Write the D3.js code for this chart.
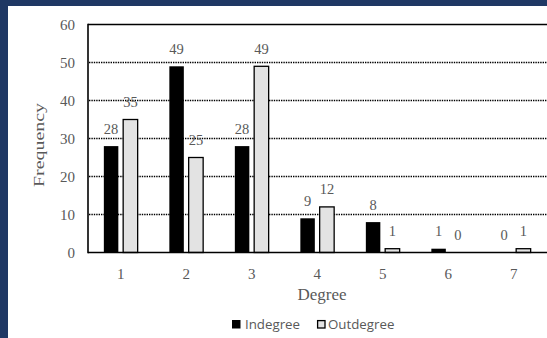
<!DOCTYPE html>
<html>
<head>
<meta charset="utf-8">
<script src="https://cdn.jsdelivr.net/npm/d3@7"></script>
<style>
  body { margin: 0; background: #1f3864; }
  svg { display: block; }
</style>
</head>
<body>
<svg width="547" height="338"></svg>
<script>
const degrees = ['1', '2', '3', '4', '5', '6', '7']
const indegree = [28, 49, 28, 9, 8, 1, 0]
const outdegree = [35, 25, 49, 12, 1, 0, 1]
const yTicks = [0, 10, 20, 30, 40, 50, 60]
const seriesNames = ['Indegree', 'Outdegree']

const svg = d3.select('svg')
const textGray = '#595959'
const serif = '"Liberation Serif", "Times New Roman", serif'

// white page inside the blue frame
svg.append('rect')
  .attr('x', 8).attr('y', 6)
  .attr('width', 547 - 8).attr('height', 338 - 6)
  .attr('fill', '#fff')

const margin = { top: 24.5, left: 88, right: 0.5, bottom: 252.5 }

const x = d3.scaleBand()
  .domain(degrees)
  .range([margin.left, 547 - margin.right])

const xs = d3.scaleBand()
  .domain(seriesNames)
  .range([0, x.bandwidth()])
  .paddingInner(0.25)
  .paddingOuter(0.82)

const y = d3.scaleLinear()
  .domain([0, 60])
  .range([margin.bottom, margin.top])

const color = d3.scaleOrdinal()
  .domain(seriesNames)
  .range(['#000000', '#e3e3e3'])

// dotted gridlines
svg.append('g')
  .selectAll('line')
  .data(yTicks.filter(function (d) { return d > 0 && d < 60 }))
  .enter()
  .append('line')
  .attr('x1', margin.left + 1)
  .attr('x2', 547)
  .attr('y1', function (d) { return y(d) })
  .attr('y2', function (d) { return y(d) })
  .attr('stroke', '#000')
  .attr('stroke-width', 1.4)
  .attr('stroke-dasharray', '1.4,1')

// top border
svg.append('line')
  .attr('x1', margin.left).attr('x2', 547)
  .attr('y1', y(60)).attr('y2', y(60))
  .attr('stroke', '#000').attr('stroke-width', 1.6)

const rows = degrees.map(function (d, i) {
  return {
    degree: d,
    values: [
      { name: 'Indegree', value: indegree[i] },
      { name: 'Outdegree', value: outdegree[i] }
    ]
  }
})

const groups = svg.selectAll('.grp')
  .data(rows)
  .enter()
  .append('g')
  .attr('class', 'grp')
  .attr('transform', function (d) { return 'translate(' + x(d.degree) + ',0)' })

groups.selectAll('rect')
  .data(function (d) { return d.values })
  .enter()
  .append('rect')
  .attr('x', function (d) { return xs(d.name) })
  .attr('width', xs.bandwidth())
  .attr('y', function (d) { return y(d.value) })
  .attr('height', function (d) { return y(0) - y(d.value) })
  .attr('fill', function (d) { return color(d.name) })
  .attr('stroke', '#000')
  .attr('stroke-width', function (d) { return d.name === 'Outdegree' ? 1.3 : 0 })

groups.selectAll('text')
  .data(function (d) { return d.values })
  .enter()
  .append('text')
  .attr('x', function (d) { return xs(d.name) + xs.bandwidth() / 2 })
  .attr('y', function (d) { return y(d.value) - 12.5 })
  .attr('text-anchor', 'middle')
  .style('font-family', serif)
  .style('font-size', '14.5px')
  .style('fill', textGray)
  .text(function (d) { return d.value })

// axes lines
svg.append('line')
  .attr('x1', margin.left).attr('x2', margin.left)
  .attr('y1', y(60) - 0.8).attr('y2', y(0) + 0.8)
  .attr('stroke', '#000').attr('stroke-width', 1.6)

svg.append('line')
  .attr('x1', margin.left).attr('x2', 547)
  .attr('y1', y(0)).attr('y2', y(0))
  .attr('stroke', '#000').attr('stroke-width', 1.6)

// y tick labels
svg.append('g')
  .selectAll('text')
  .data(yTicks)
  .enter()
  .append('text')
  .attr('x', 75)
  .attr('y', function (d) { return y(d) + 5 })
  .attr('text-anchor', 'end')
  .style('font-family', serif)
  .style('font-size', '15px')
  .style('fill', textGray)
  .text(function (d) { return d })

// x tick labels
svg.append('g')
  .selectAll('text')
  .data(degrees)
  .enter()
  .append('text')
  .attr('x', function (d) { return x(d) + x.bandwidth() / 2 })
  .attr('y', 279)
  .attr('text-anchor', 'middle')
  .style('font-family', serif)
  .style('font-size', '15px')
  .style('fill', textGray)
  .text(function (d) { return d })

// axis titles
svg.append('text')
  .attr('x', 322)
  .attr('y', 300)
  .attr('text-anchor', 'middle')
  .style('font-family', serif)
  .style('font-size', '17px')
  .style('fill', textGray)
  .text('Degree')

svg.append('text')
  .attr('transform', 'translate(44,145) rotate(-90)')
  .attr('text-anchor', 'middle')
  .attr('textLength', 84)
  .attr('lengthAdjust', 'spacingAndGlyphs')
  .style('font-family', serif)
  .style('font-size', '14.5px')
  .style('fill', textGray)
  .text('Frequency')

// legend
const legendX = [232, 317]
const legend = svg.selectAll('.legend')
  .data(seriesNames)
  .enter()
  .append('g')
  .attr('class', 'legend')
  .attr('transform', function (d, i) { return 'translate(' + legendX[i] + ',320)' })

legend.append('rect')
  .attr('x', function (d, i) { return i === 1 ? 0.6 : 0 })
  .attr('y', function (d, i) { return i === 1 ? 0.6 : 0 })
  .attr('width', function (d, i) { return i === 1 ? 7.4 : 8.5 })
  .attr('height', function (d, i) { return i === 1 ? 7.4 : 8.5 })
  .attr('fill', function (d) { return color(d) })
  .attr('stroke', '#000')
  .attr('stroke-width', function (d, i) { return i === 1 ? 1.3 : 0 })

legend.append('text')
  .attr('x', function (d, i) { return i === 1 ? 11 : 13 })
  .attr('y', 8.6)
  .style('font-family', '"Open Sans", sans-serif')
  .style('font-size', '13.3px')
  .style('fill', textGray)
  .text(function (d) { return d })
</script>
</body>
</html>
